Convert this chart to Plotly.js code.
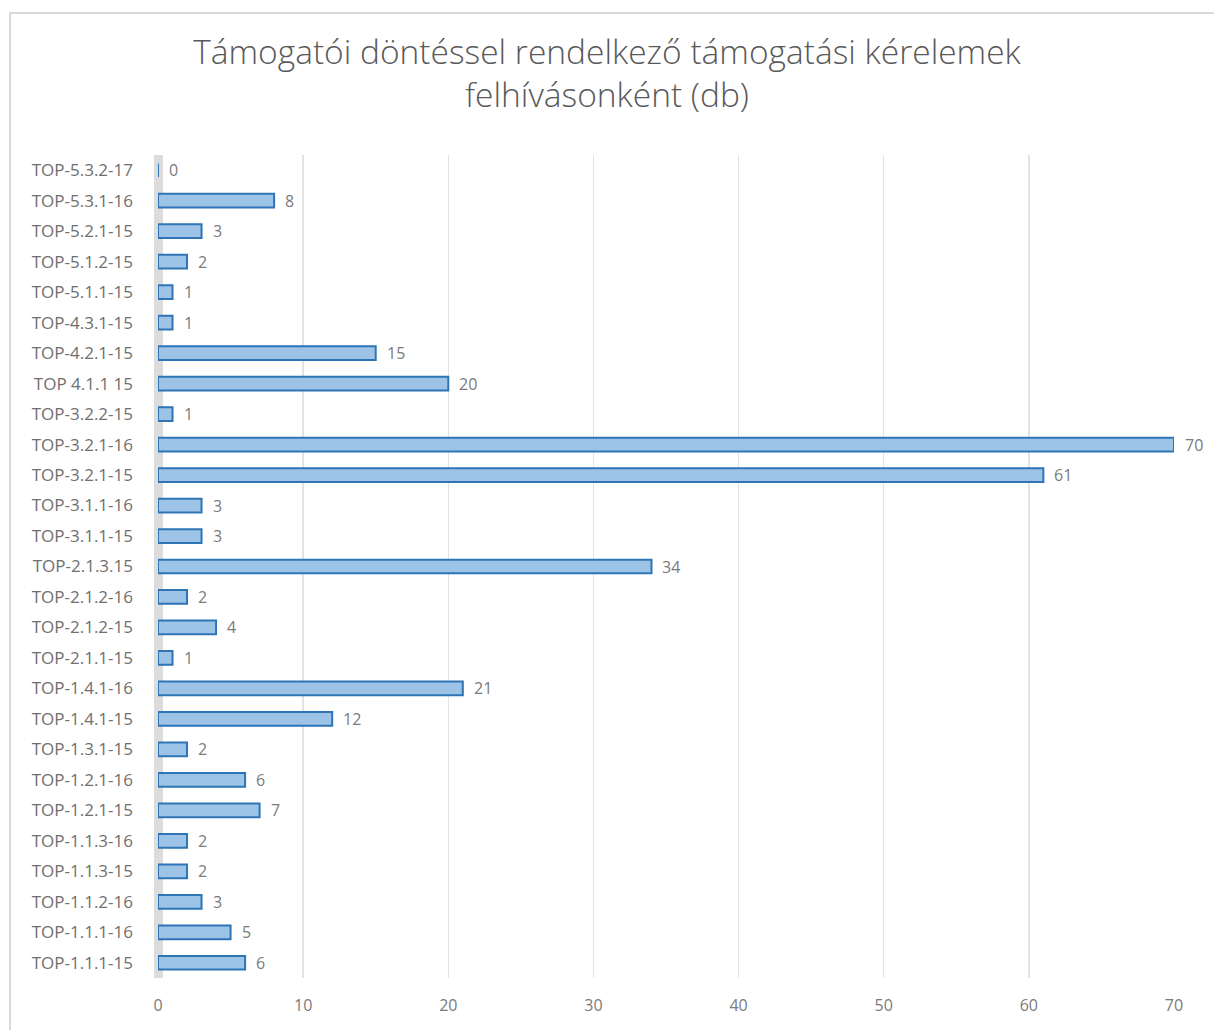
<!DOCTYPE html>
<html>
<head>
<meta charset="utf-8">
<script src="https://cdn.plot.ly/plotly-3.0.1.min.js"></script>
<style>
  html, body { margin: 0; padding: 0; background: #fff; }
  #wrap { position: relative; width: 1214px; height: 1030px; }
  #chart { position: absolute; left: 0; top: 0; width: 1214px; height: 1030px; }
  #frame { position: absolute; left: 9px; top: 12px; width: 1220px; height: 1030px;
           border-left: 2px solid #d9d9d9; border-top: 2px solid #d9d9d9; pointer-events: none; }
</style>
</head>
<body>
<div id="wrap">
  <div id="chart"></div>
  <div id="frame"></div>
</div>
<script>
const categories = [
  "TOP-1.1.1-15", "TOP-1.1.1-16", "TOP-1.1.2-16", "TOP-1.1.3-15", "TOP-1.1.3-16",
  "TOP-1.2.1-15", "TOP-1.2.1-16", "TOP-1.3.1-15", "TOP-1.4.1-15", "TOP-1.4.1-16",
  "TOP-2.1.1-15", "TOP-2.1.2-15", "TOP-2.1.2-16", "TOP-2.1.3.15", "TOP-3.1.1-15",
  "TOP-3.1.1-16", "TOP-3.2.1-15", "TOP-3.2.1-16", "TOP-3.2.2-15", "TOP 4.1.1 15",
  "TOP-4.2.1-15", "TOP-4.3.1-15", "TOP-5.1.1-15", "TOP-5.1.2-15", "TOP-5.2.1-15",
  "TOP-5.3.1-16", "TOP-5.3.2-17"
];
const values = [
  6, 5, 3, 2, 2,
  7, 6, 2, 12, 21,
  1, 4, 2, 34, 3,
  3, 61, 70, 1, 20,
  15, 1, 1, 2, 3,
  8, 0
];
const xTicks = [0, 10, 20, 30, 40, 50, 60, 70];
const titleText = "Támogatói döntéssel rendelkező támogatási kérelemek<br>felhívásonként (db)";

const font = "'Open Sans', 'Noto Sans', sans-serif";

const trace = {
  type: "bar",
  orientation: "h",
  y: categories,
  x: values,
  marker: { color: "#9dc3e6", line: { color: "#2e75b6", width: 2 } },
  hoverinfo: "x+y"
};

const labelAnnotations = values.map((v, i) => ({
  x: v, y: categories[i], xref: "x", yref: "y",
  text: String(v), showarrow: false,
  xanchor: "left", yanchor: "middle", xshift: 9,
  font: { family: font, size: 16, color: "#7a7a7a" }
}));

const layout = {
  width: 1214,
  height: 1030,
  paper_bgcolor: "#ffffff",
  plot_bgcolor: "#ffffff",
  margin: { l: 158, r: 40, t: 155, b: 52 },
  title: {
    text: titleText,
    x: 0.5, xanchor: "center",
    yref: "container",
    y: 0.9383, yanchor: "middle",
    font: { family: font, size: 33.5, color: "#595959", weight: 300 }
  },
  bargap: 0.55,
  showlegend: false,
  annotations: labelAnnotations,
  xaxis: {
    range: [0, 70],
    tickvals: xTicks,
    ticktext: xTicks.map(String),
    showgrid: true,
    gridcolor: "#e3e3e3",
    gridwidth: 1.5,
    zeroline: true,
    zerolinecolor: "#dcdcdc",
    zerolinewidth: 9,
    showline: false,
    ticks: "",
    ticklabelstandoff: 16,
    tickfont: { family: font, size: 16, color: "#7a7a7a" },
    fixedrange: true
  },
  yaxis: {
    type: "category",
    categoryorder: "array",
    categoryarray: categories,
    showgrid: false,
    zeroline: false,
    showline: false,
    ticks: "",
    ticklabelstandoff: 24,
    tickfont: { family: font, size: 17, color: "#6f6f6f" },
    fixedrange: true
  }
};

Plotly.newPlot("chart", [trace], layout, { displayModeBar: false, staticPlot: true });
</script>
</body>
</html>
